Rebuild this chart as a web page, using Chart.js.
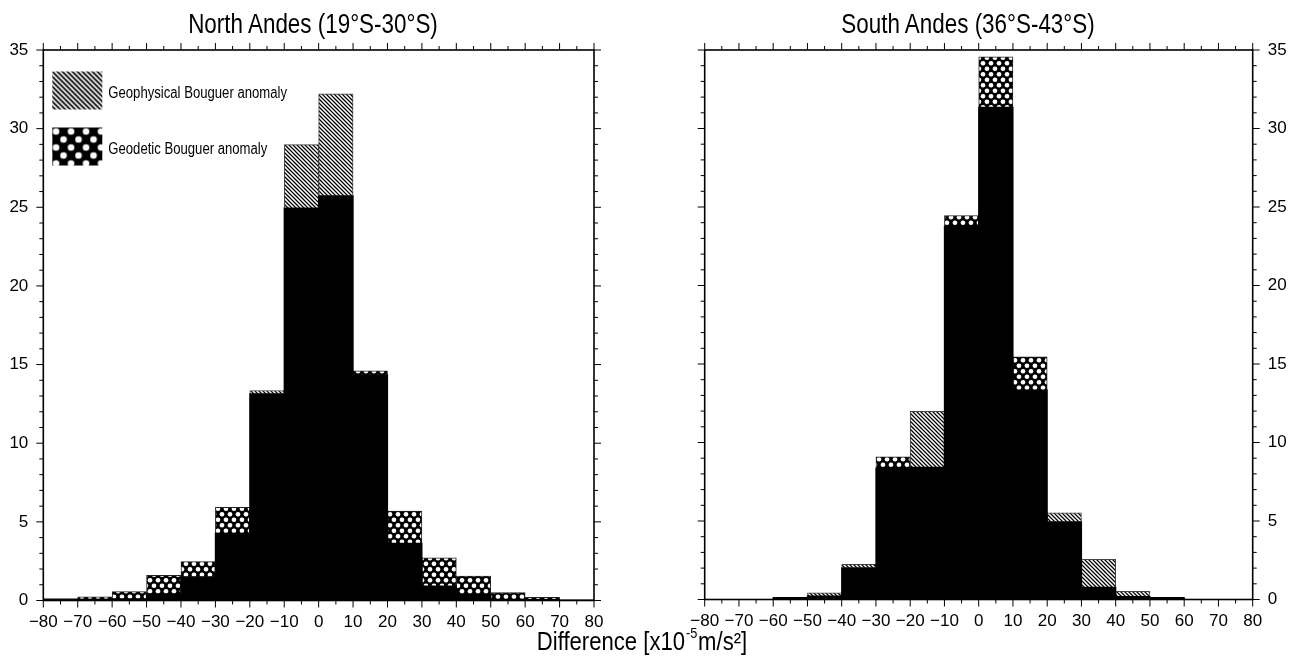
<!DOCTYPE html>
<html>
<head>
<meta charset="utf-8">
<script src="https://cdn.jsdelivr.net/npm/chart.js@4.4.0/dist/chart.umd.min.js"></script>
<style>
  html, body { margin: 0; padding: 0; background: #fff; }
  body { width: 1298px; height: 664px; position: relative; overflow: hidden; }
  .panel { position: absolute; top: 0; height: 664px; }
  .label {
    position: absolute; white-space: nowrap; color: #000;
    font-family: "Liberation Sans", Arial, Helvetica, sans-serif;
    transform: translateX(-50%) scaleX(0.83);
  }
  .title { font-size: 27px; line-height: 27px; top: 11px; }
  .axis { font-size: 26px; line-height: 26px; top: 628px; transform: translateX(-50%) scaleX(0.85); }
  .sup { font-size: 15px; position: relative; top: -12px; margin: 0 1px; }
</style>
</head>
<body>
<div class="panel" style="left:0;width:649px"><canvas id="north"></canvas></div>
<div class="panel" style="left:649px;width:649px"><canvas id="south"></canvas></div>
<div class="label title" style="left:313px">North Andes (19°S-30°S)</div>
<div class="label title" style="left:968px">South Andes (36°S-43°S)</div>
<div class="label axis" style="left:642px">Difference [x10<span class="sup">-5</span>m/s²]</div>
<script>
// Histogram bins (centres of the 10-unit classes) and axis ticks
const bins = [-75, -65, -55, -45, -35, -25, -15, -5, 5, 15, 25, 35, 45, 55, 65, 75];
const xTickValues = [-80, -70, -60, -50, -40, -30, -20, -10, 0, 10, 20, 30, 40, 50, 60, 70, 80];
const yTickValues = [0, 5, 10, 15, 20, 25, 30, 35];

// Percentage of stations per class
const northGeophysical = [0.04, 0.08, 0.10, 0.41, 1.51, 4.27, 13.35, 28.98, 32.22, 14.34, 3.64, 0.92, 0.39, 0.08, 0.05, 0.03];
const northGeodetic    = [0.12, 0.24, 0.56, 1.60, 2.47, 5.93, 13.14, 24.95, 25.73, 14.60, 5.69, 2.72, 1.56, 0.50, 0.20, 0.03];
const southGeophysical = [0, 0, 0.12, 0.43, 2.24, 8.35, 11.99, 23.76, 31.35, 13.33, 5.52, 2.56, 0.52, 0.12, 0, 0];
const southGeodetic    = [0, 0, 0.12, 0.22, 2.02, 9.08, 8.41, 24.46, 34.57, 15.45, 4.95, 0.78, 0.18, 0.12, 0, 0];

const legendLabels = ['Geophysical Bouguer anomaly', 'Geodetic Bouguer anomaly'];

const TICK_FONT = { family: '"Liberation Sans", Arial, sans-serif', size: 17 };
const TEXT_FAMILY = '"Liberation Sans", Arial, sans-serif';

// Diagonal hatch (lines running top-left to bottom-right)
function hatchPattern(tile, lines, width) {
  const c = document.createElement('canvas');
  c.width = tile; c.height = tile;
  const g = c.getContext('2d');
  g.fillStyle = '#fff'; g.fillRect(0, 0, tile, tile);
  g.strokeStyle = '#000'; g.lineWidth = width;
  const step = tile / lines;
  g.beginPath();
  for (let k = -lines - 1; k <= lines + 1; k++) {
    const c0 = k * step;
    g.moveTo(c0 - 2, -2); g.lineTo(c0 + tile + 2, tile + 2);
  }
  g.stroke();
  return g.createPattern(c, 'repeat');
}

// White dots on black in staggered rows
function dotPattern(w, h, r) {
  const c = document.createElement('canvas');
  c.width = w; c.height = h;
  const g = c.getContext('2d');
  g.fillStyle = '#000'; g.fillRect(0, 0, w, h);
  g.fillStyle = '#fff';
  const pts = [[w / 4, h / 4], [3 * w / 4, 3 * h / 4]];
  for (const [px, py] of pts) {
    for (const dx of [-w, 0, w]) for (const dy of [-h, 0, h]) {
      g.beginPath(); g.arc(px + dx, py + dy, r, 0, Math.PI * 2); g.fill();
    }
  }
  return g.createPattern(c, 'repeat');
}

const hatchFine = hatchPattern(8, 2, 1.25);
const dotsFine = dotPattern(8, 11, 2.3);
const hatchCoarse = hatchPattern(10, 2, 1.8);
const dotsCoarse = dotPattern(15, 16, 3.3);

const fmt = v => (v < 0 ? '\u2212' + Math.abs(v) : String(v));

// Frame with outward tick marks on all four sides
const framePlugin = {
  id: 'frame',
  afterDraw(chart) {
    const { ctx, chartArea: a, scales: { x, y } } = chart;
    ctx.save();
    ctx.strokeStyle = '#000';
    ctx.lineWidth = 1;
    ctx.beginPath();
    for (let v = x.min; v <= x.max; v += 5) {
      const px = x.getPixelForValue(v);
      const len = v % 10 === 0 ? 7 : 4;
      ctx.moveTo(px, a.bottom); ctx.lineTo(px, a.bottom + len);
      ctx.moveTo(px, a.top); ctx.lineTo(px, a.top - len);
    }
    for (let v = y.min; v <= y.max; v += 1) {
      const py = y.getPixelForValue(v);
      const len = v % 5 === 0 ? 7 : 4;
      ctx.moveTo(a.left, py); ctx.lineTo(a.left - len, py);
      ctx.moveTo(a.right, py); ctx.lineTo(a.right + len, py);
    }
    ctx.stroke();
    ctx.lineWidth = 1.6;
    ctx.strokeRect(a.left, a.top, a.right - a.left, a.bottom - a.top);
    ctx.restore();
  }
};

// Legend boxes drawn inside the plot area, top left
const boxLegendPlugin = {
  id: 'boxLegend',
  afterDraw(chart) {
    const { ctx, chartArea: a } = chart;
    const items = [
      { fill: hatchCoarse, text: legendLabels[0], top: 21.5 },
      { fill: dotsCoarse, text: legendLabels[1], top: 77.5 }
    ];
    ctx.save();
    for (const it of items) {
      const bx = a.left + 9, by = a.top + it.top, bw = 50, bh = 38;
      ctx.save();
      ctx.translate(bx, by);
      ctx.fillStyle = it.fill;
      ctx.fillRect(0, 0, bw, bh);
      ctx.restore();
      ctx.save();
      ctx.translate(bx + 56, by + bh / 2 + 3);
      ctx.scale(0.82, 1);
      ctx.fillStyle = '#000';
      ctx.font = '16px ' + TEXT_FAMILY;
      ctx.textBaseline = 'middle';
      ctx.textAlign = 'left';
      ctx.fillText(it.text, 0, 0);
      ctx.restore();
    }
    ctx.restore();
  }
};

function makeChart(id, geo, geod, geom, extraPlugins) {
  const common = bins.map((x, i) => ({ x, y: Math.min(geo[i], geod[i]) }));
  const geoExcess = bins.map((x, i) => ({ x, y: geo[i] > geod[i] ? [geod[i], geo[i]] : null }));
  const geodExcess = bins.map((x, i) => ({ x, y: geod[i] > geo[i] ? [geo[i], geod[i]] : null }));
  return new Chart(document.getElementById(id), {
    type: 'bar',
    data: {
      datasets: [
        { label: 'common', data: common, backgroundColor: '#000', borderWidth: 0, inflateAmount: 0.6, grouped: false },
        { label: legendLabels[0], data: geoExcess, backgroundColor: hatchFine, borderColor: '#444', borderWidth: 1, grouped: false },
        { label: legendLabels[1], data: geodExcess, backgroundColor: dotsFine, borderColor: '#222', borderWidth: 1, grouped: false }
      ]
    },
    options: {
      responsive: true,
      maintainAspectRatio: false,
      animation: false,
      events: [],
      layout: { padding: { top: 50, left: geom.padLeft, right: geom.padRight, bottom: 0 } },
      datasets: { bar: { barPercentage: 1, categoryPercentage: 1 } },
      plugins: { legend: { display: false }, tooltip: { enabled: false }, title: { display: false } },
      scales: {
        x: {
          type: 'linear', min: -80, max: 80, offset: false, position: 'bottom',
          grid: { display: false, drawTicks: false }, border: { display: false },
          afterBuildTicks: s => { s.ticks = xTickValues.map(v => ({ value: v })); },
          afterFit: s => { s.height = geom.xHeight; },
          ticks: { autoSkip: false, maxRotation: 0, minRotation: 0, padding: 12, color: '#000', font: TICK_FONT, callback: v => fmt(v) }
        },
        y: {
          type: 'linear', min: 0, max: 35, position: geom.ySide,
          grid: { display: false, drawTicks: false }, border: { display: false },
          afterBuildTicks: s => { s.ticks = yTickValues.map(v => ({ value: v })); },
          afterFit: s => { s.width = geom.yWidth; },
          ticks: { autoSkip: false, padding: 15, color: '#000', font: TICK_FONT, callback: v => String(v) }
        }
      }
    },
    plugins: [framePlugin].concat(extraPlugins)
  });
}

makeChart('north', northGeophysical, northGeodetic,
  { padLeft: 0, padRight: 55, yWidth: 43.3, xHeight: 63.5, ySide: 'left' }, [boxLegendPlugin]);
makeChart('south', southGeophysical, southGeodetic,
  { padLeft: 55.7, padRight: 0, yWidth: 45.3, xHeight: 64.5, ySide: 'right' }, []);
</script>
</body>
</html>
